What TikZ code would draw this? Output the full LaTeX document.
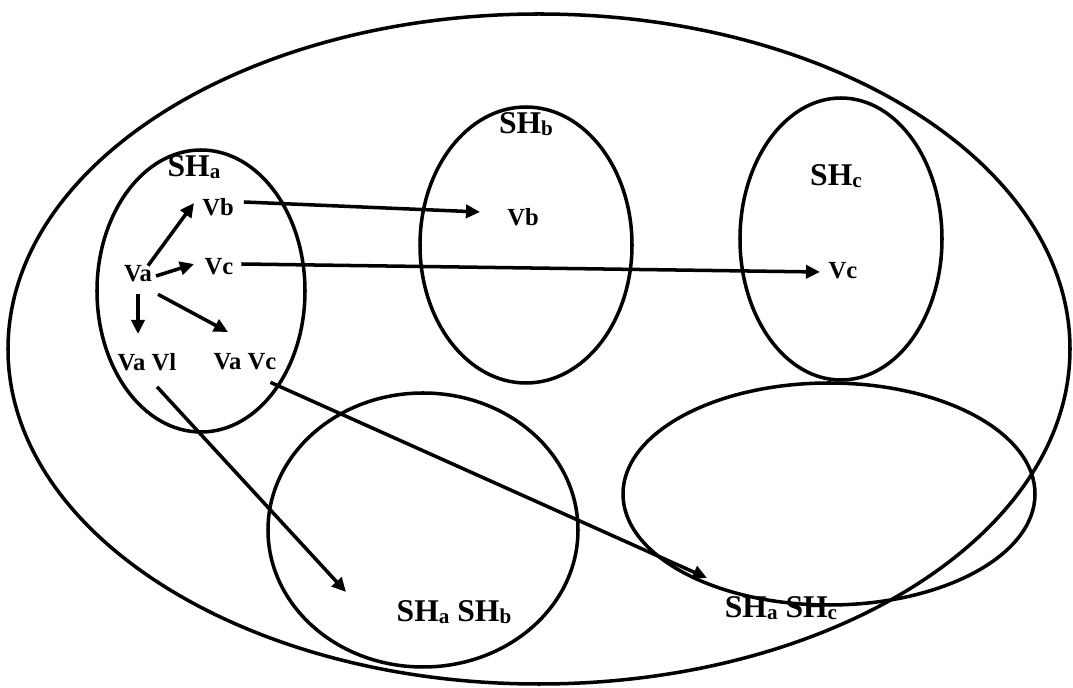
\documentclass[tikz,border=0pt]{standalone}
\usepackage{fontspec}
\setmainfont{Liberation Serif}
\usetikzlibrary{arrows.meta}
\newcommand\shsub[1]{\raisebox{-1pt}{\fontsize{12}{12}\selectfont #1}}
\begin{document}
\begin{tikzpicture}[x=0.02cm,y=-0.02cm,
  ell/.style={draw=black,line width=2pt},
  arr/.style={draw=black,line width=2pt,-{Triangle[length=8pt,width=7.5pt]}},
  lab/.style={font=\bfseries\fontsize{14}{16}\selectfont,inner sep=1pt},
  shlab/.style={font=\bfseries\fontsize{18}{20}\selectfont,inner sep=1pt}]
\useasboundingbox (0,0) rectangle (1073,688);
\fill[white] (0,0) rectangle (1073,688);
% ellipses
\draw[ell] (539,349) ellipse [x radius=531, y radius=335];
\draw[ell] (201,291) ellipse [x radius=104, y radius=141];
\draw[ell] (526,245) ellipse [x radius=106, y radius=138];
\draw[ell] (841,239) ellipse [x radius=101, y radius=141];
\draw[ell] (423,530) ellipse [x radius=155, y radius=137];
\draw[ell] (829,494) ellipse [x radius=206, y radius=111];
% labels
\node[shlab] (sha) at (194,167) {SH\shsub{a}};
\node[shlab] (shb) at (526,124) {SH\shsub{b}};
\node[shlab] (shc) at (836,176) {SH\shsub{c}};
\node[shlab] (shab) at (454,612) {SH\shsub{a} SH\shsub{b}};
\node[shlab] (shac) at (781,608) {SH\shsub{a} SH\shsub{c}};
\node[lab] (va) at (138,274) {Va};
\node[lab] (vb1) at (218,207) {Vb};
\node[lab] (vc1) at (219,267) {Vc};
\node[lab] (vavl) at (147,362) {Va Vl};
\node[lab] (vavc) at (245,362) {Va Vc};
\node[lab] (vb2) at (523,217) {Vb};
\node[lab] (vc2) at (843,271) {Vc};
% arrow ends
\coordinate (e1) at (194,203);
\coordinate (e2) at (194,264);
\coordinate (e3) at (138,334);
\coordinate (e4) at (228,332);
\coordinate (e5) at (480,212);
\coordinate (e6) at (820,272);
\coordinate (e7) at (346,592);
\coordinate (e8) at (707,578);
% arrows
\draw[arr] (va.north east) ++(-6,2) -- (e1);
\draw[arr] (va.east) ++(2,2) -- (e2);
\draw[arr] (va.south) ++(0,10) -- (e3);
\draw[arr] (va.south east) ++(4,10) -- (e4);
\draw[arr] (vb1.east) ++(8,-5) -- (e5);
\draw[arr] (vc1.east) ++(6,-3) -- (e6);
\draw[arr] (vavl.south) ++(10,14) -- (e7);
\draw[arr] (vavc.south east) ++(-8,10) -- (e8);
\end{tikzpicture}
\end{document}
